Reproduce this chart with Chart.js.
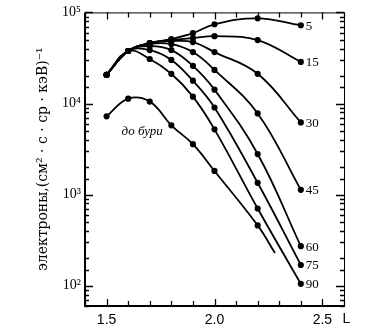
<!DOCTYPE html>
<html><head><meta charset="utf-8">
<script src="https://cdn.jsdelivr.net/npm/chart.js@4/dist/chart.umd.min.js"></script>
<style>html,body{margin:0;padding:0;background:#fff;}canvas{display:block;}</style>
</head><body>
<canvas id="c" width="369" height="334"></canvas>
<script>
// L-shell values (x axis)
const L = [1.5, 1.6, 1.7, 1.8, 1.9, 2.0, 2.2, 2.4];
// curve labels (hours)
const hours = ['5', '15', '30', '45', '60', '75', '90'];
// electron flux, (cm^2 s sr keV)^-1
const h5  = [20700, 37700, 46000, 50900, 59100, 74100, 86100, 72300];
const h15 = [20700, 37700, 46000, 49700, 52100, 54800, 49700, 28600];
const h30 = [20700, 37700, 46000, 48400, 47200, 36700, 21200, 6210];
const h45 = [20700, 37700, 44900, 44900, 36700, 23400, 7790, 1130];
const h60 = [20700, 37700, 42700, 38600, 25900, 14200, 2790, 272];
const h75 = [20700, 37700, 38600, 30100, 17800, 9050, 1350, 169];
const h90 = [20700, 37700, 30800, 21200, 11900, 5210, 705, 105];
const stormSeries = [h5, h15, h30, h45, h60, h75, h90];
// before the storm
const beforeL = [1.5, 1.6, 1.7, 1.8, 1.9, 2.0, 2.2, 2.28];
const beforeStorm = [7230, 11300, 10500, 5770, 3580, 1820, 460, 229];
const beforeLabel = 'до бури';
// axis texts
const xTickLabels = ['1.5', '2.0', '2.5'];
const xAxisName = 'L';
const yTickLabels = {2: '10²', 3: '10³', 4: '10⁴', 5: '10⁵'};
const yAxisTitle = 'электроны,(см² · с · ср · кэВ)⁻¹';

const datasets = stormSeries.map((vals, i) => ({
  label: hours[i],
  data: L.map((x, j) => ({x: x, y: vals[j]})),
  borderColor: '#000', backgroundColor: '#000',
  borderWidth: 1.8, pointRadius: 2.2, pointHoverRadius: 2.2,
  tension: 0.4, fill: false
}));
datasets.push({
  label: beforeLabel,
  data: beforeL.map((x, j) => ({x: x, y: beforeStorm[j]})),
  borderColor: '#000', backgroundColor: '#000',
  borderWidth: 1.8,
  pointRadius: beforeL.map((x, j) => j === beforeL.length - 1 ? 0 : 2.2),
  tension: 0.4, fill: false
});

const frame = {
  id: 'frame',
  afterDraw(chart) {
    const ctx = chart.ctx, a = chart.chartArea;
    const xs = chart.scales.x, ys = chart.scales.y;
    ctx.save();
    ctx.strokeStyle = '#000';
    ctx.lineWidth = 1;
    ctx.strokeRect(a.left + 0.5, a.top + 0.5, a.right - a.left, a.bottom - a.top);
    ctx.lineWidth = 2;
    ctx.beginPath();
    ctx.moveTo(a.left, a.top); ctx.lineTo(a.left, a.bottom); ctx.lineTo(a.right, a.bottom);
    ctx.stroke();
    ctx.lineWidth = 1.3;
    ctx.beginPath();
    xs.ticks.forEach(t => {
      const p = Math.round(xs.getPixelForValue(t.value)) + 0.5;
      const major = xTickLabels.includes(t.value.toFixed(1)) && Math.abs(t.value * 10 - Math.round(t.value * 10)) < 1e-6;
      const len = major ? 7 : 5;
      ctx.moveTo(p, a.bottom); ctx.lineTo(p, a.bottom - len);
      ctx.moveTo(p, a.top); ctx.lineTo(p, a.top + len);
    });
    ys.ticks.forEach(t => {
      const lg = Math.log10(t.value);
      const major = Math.abs(lg - Math.round(lg)) < 1e-9;
      const len = major ? 8 : 4;
      const p = Math.round(ys.getPixelForValue(t.value)) + 0.5;
      ctx.moveTo(a.left, p); ctx.lineTo(a.left + len, p);
      ctx.moveTo(a.right, p); ctx.lineTo(a.right - len, p);
    });
    ctx.stroke();
    // curve labels
    ctx.fillStyle = '#000';
    ctx.font = '13px "Liberation Serif"';
    ctx.textBaseline = 'middle';
    ctx.textAlign = 'left';
    chart.data.datasets.forEach((ds, i) => {
      if (i >= hours.length) return;
      const last = ds.data[ds.data.length - 1];
      const px = xs.getPixelForValue(last.x), py = ys.getPixelForValue(last.y);
      ctx.fillText(ds.label, px + 5, py + 1);
    });
    ctx.font = 'italic 13px "Liberation Serif"';
    ctx.textAlign = 'center';
    ctx.fillText(beforeLabel, xs.getPixelForValue(1.665), ys.getPixelForValue(4900));
    // axis name L
    ctx.font = '14px "Liberation Sans"';
    ctx.textAlign = 'left';
    ctx.fillText(xAxisName, xs.getPixelForValue(2.5) + 20, a.bottom + 13);
    ctx.restore();
  }
};

new Chart(document.getElementById('c'), {
  type: 'line',
  data: {datasets},
  options: {
    responsive: false, animation: false,
    devicePixelRatio: 1,
    layout: {padding: {left: 0, top: 10, right: 25, bottom: 0}},
    plugins: {legend: {display: false}, tooltip: {enabled: false}},
    scales: {
      x: {
        type: 'linear', min: 1.4, max: 2.6,
        grid: {display: false, drawTicks: false},
        border: {display: false},
        afterFit(s) { s.height = 28; },
        ticks: {
          stepSize: 0.1, autoSkip: false, maxRotation: 0, padding: 6,
          color: '#000', font: {family: 'Liberation Sans', size: 14},
          callback(v) {
            const s = Number(v).toFixed(1);
            return (Math.abs(v * 10 - Math.round(v * 10)) < 1e-6 && xTickLabels.includes(s)) ? s : '';
          }
        }
      },
      y: {
        type: 'logarithmic', min: 60, max: 100000,
        grid: {display: false, drawTicks: false},
        border: {display: false},
        afterFit(s) { s.width = 85; },
        title: {
          display: true, text: yAxisTitle, color: '#000',
          font: {family: 'DejaVu Serif', size: 14},
          padding: {top: 35, bottom: 0}
        },
        ticks: {
          autoSkip: false, padding: 4, color: '#000',
          font: {family: 'Liberation Serif', size: 14},
          callback(v) {
            const lg = Math.log10(v);
            const r = Math.round(lg);
            return Math.abs(lg - r) < 1e-9 && yTickLabels[r] ? yTickLabels[r] : '';
          }
        }
      }
    }
  },
  plugins: [frame]
});
</script>
</body></html>
